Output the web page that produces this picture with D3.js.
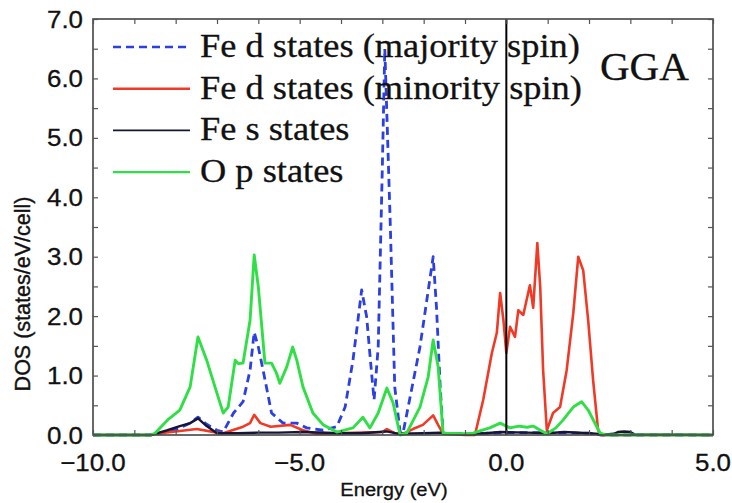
<!DOCTYPE html>
<html>
<head>
<meta charset="utf-8">
<script src="https://cdn.jsdelivr.net/npm/d3@7"></script>
<style>
  body { margin: 0; background: #fff; }
</style>
</head>
<body>
<script>
// data (energy in eV, DOS in states/eV/cell)
var majE = [-10, -8.6, -8.5, -8.2, -7.9, -7.65, -7.46, -7.25, -7.0, -6.85, -6.6, -6.37, -6.2, -6.1, -6.0, -5.87, -5.68, -5.4, -5.07, -4.83, -4.43, -4.1, -3.9, -3.71, -3.5, -3.38, -3.26, -3.2, -3.1, -3.0, -2.94, -2.81, -2.7, -2.57, -2.5, -2.09, -1.77, -1.69, -1.6, -1.53, -1.0, 0, 1, 2, 2.3, 5]
var majDos = [0, 0, 0.02, 0.05, 0.12, 0.2, 0.3, 0.18, 0.08, 0.05, 0.37, 0.56, 1.09, 1.73, 1.48, 1.04, 0.37, 0.2, 0.2, 0.12, 0.08, 0.14, 0.47, 1.26, 2.44, 1.99, 1.04, 0.59, 1.48, 4.5, 6.5, 3.6, 0.81, 0.05, 0.03, 1.48, 3.0, 2.15, 0.81, 0.03, 0.02, 0.04, 0.04, 0.03, 0, 0]

var minE = [-10, -8.6, -8.5, -8.0, -7.49, -7.0, -6.85, -6.37, -6.2, -6.1, -5.95, -5.7, -5.23, -4.92, -4.6, -3.5, -3.0, -2.89, -2.7, -2.5, -2.26, -2.02, -1.77, -1.65, -1.53, -1.0, -0.76, -0.56, -0.35, -0.23, -0.15, -0.07, 0.0, 0.09, 0.21, 0.29, 0.41, 0.57, 0.65, 0.75, 0.82, 0.89, 0.98, 1.13, 1.3, 1.46, 1.62, 1.74, 1.86, 1.98, 2.1, 2.22, 2.3, 5]
var minDos = [0, 0, 0.02, 0.06, 0.1, 0.04, 0.03, 0.14, 0.2, 0.34, 0.2, 0.14, 0.17, 0.08, 0.02, 0.04, 0.05, 0.1, 0.03, 0.02, 0.1, 0.17, 0.33, 0.17, 0.02, 0.0, 0.0, 0.59, 1.38, 1.72, 2.39, 1.93, 1.38, 1.82, 1.65, 2.1, 2.02, 2.52, 2.14, 3.23, 2.49, 1.09, 0.08, 0.37, 0.47, 1.09, 2.05, 3.0, 2.77, 1.93, 0.92, 0.08, 0, 0]

var sE = [-10, -8.6, -8.5, -8.2, -7.9, -7.65, -7.46, -7.25, -7.0, -6.5, -6.0, -5.5, -4.92, -4.0, -3.5, -2.9, -2.6, -2.0, -1.6, -1.0, -0.5, -0.15, 0.5, 1.0, 1.4, 2.0, 2.4, 2.6, 2.7, 2.85, 3.0, 3.1, 5]
var sDos = [0, 0, 0.02, 0.08, 0.15, 0.2, 0.28, 0.15, 0.03, 0.03, 0.04, 0.04, 0.05, 0.03, 0.03, 0.06, 0.02, 0.03, 0.04, 0.01, 0.03, 0.05, 0.04, 0.03, 0.05, 0.03, 0.01, 0.02, 0.05, 0.06, 0.05, 0.01, 0]

var opE = [-10, -8.6, -8.5, -8.2, -7.9, -7.65, -7.46, -7.25, -7.0, -6.85, -6.73, -6.56, -6.48, -6.37, -6.2, -6.1, -6.0, -5.84, -5.68, -5.56, -5.48, -5.31, -5.17, -5.07, -4.92, -4.68, -4.43, -4.1, -3.71, -3.47, -3.3, -3.1, -2.89, -2.74, -2.57, -2.41, -2.09, -1.89, -1.77, -1.65, -1.53, -1.0, -0.8, -0.64, -0.4, -0.15, 0.09, 0.3, 0.5, 0.65, 0.82, 0.98, 1.2, 1.37, 1.62, 1.82, 1.98, 2.27, 2.4, 5]
var opDos = [0, 0, 0.03, 0.25, 0.42, 0.81, 1.65, 1.26, 0.7, 0.37, 0.47, 1.26, 1.2, 1.21, 1.93, 3.03, 2.49, 1.21, 1.21, 1.04, 0.87, 1.15, 1.48, 1.26, 0.81, 0.37, 0.17, 0.05, 0.12, 0.3, 0.12, 0.37, 0.79, 0.54, 0.0, 0.03, 0.47, 0.98, 1.6, 1.15, 0.03, 0.02, 0.03, 0.07, 0.12, 0.2, 0.12, 0.15, 0.13, 0.15, 0.08, 0.02, 0.12, 0.25, 0.47, 0.56, 0.42, 0.03, 0, 0]

var xTicks = [-10, -5, 0, 5]
var yTicks = [0, 1, 2, 3, 4, 5, 6, 7]
var legendLabels = ["Fe d states (majority spin)", "Fe d states (minority spin)", "Fe s states", "O p states"]

svg_w = 732
svg_h = 503
var sans = "Liberation Sans, Arial, sans-serif"
var serif = "Liberation Serif, Times New Roman, serif"

var svg = d3.select("body").append("svg")
    .attr("width", svg_w).attr("height", svg_h)

var x = d3.scaleLinear().domain([-10, 5]).range([93, 713])
var y = d3.scaleLinear().domain([0, 7]).range([435, 19])

// put a text that is widened like the picture
function wtext(tx, ty, str, size, family, anchor, scale) {
    return svg.append("text")
        .attr("transform", "translate(" + tx + "," + ty + ") scale(" + scale + ",1)")
        .attr("text-anchor", anchor)
        .attr("font-family", family)
        .attr("font-size", size)
        .attr("fill", "#111")
        .attr("stroke", "#111")
        .attr("stroke-width", 0.3)
        .text(str)
}

var series = [
    {e: majE, v: majDos, color: "#2b3fe3", width: 2.8, dash: "8,5"},
    {e: minE, v: minDos, color: "#f03a26", width: 2.6, dash: null},
    {e: sE, v: sDos, color: "#151535", width: 2.4, dash: null},
    {e: opE, v: opDos, color: "#2fdf45", width: 2.9, dash: null}
]

var line = d3.line()
    .x(d => x(d[0]))
    .y(d => y(d[1]))

series.forEach(s => {
    svg.append("path")
        .datum(s.e.map((e, i) => [e, s.v[i]]))
        .attr("d", line)
        .attr("fill", "none")
        .attr("stroke", s.color)
        .attr("stroke-width", s.width)
        .attr("stroke-linejoin", "round")
        .attr("stroke-dasharray", s.dash)
})

// Fermi level
svg.append("line")
    .attr("x1", x(0)).attr("x2", x(0))
    .attr("y1", y(0)).attr("y2", y(7))
    .attr("stroke", "#000").attr("stroke-width", 2)

// frame and inward ticks on all four sides
svg.append("rect")
    .attr("x", x(-10)).attr("y", y(7))
    .attr("width", x(5) - x(-10)).attr("height", y(0) - y(7))
    .attr("fill", "none").attr("stroke", "#444").attr("stroke-width", 1.6)

var xAxB = d3.axisBottom(x).tickValues(d3.range(-10, 5.01, 1)).tickSize(-5).tickFormat("")
var xAxT = d3.axisTop(x).tickValues(d3.range(-10, 5.01, 1)).tickSize(-5).tickFormat("")
var yAxL = d3.axisLeft(y).tickValues(d3.range(0, 7.01, 0.5)).tickSize(-5).tickFormat("")
var yAxR = d3.axisRight(y).tickValues(d3.range(0, 7.01, 0.5)).tickSize(-5).tickFormat("")
;[[xAxB, "translate(0," + y(0) + ")"], [xAxT, "translate(0," + y(7) + ")"],
  [yAxL, "translate(" + x(-10) + ",0)"], [yAxR, "translate(" + x(5) + ",0)"]].forEach(a => {
    var g = svg.append("g").attr("transform", a[1]).call(a[0])
    g.select(".domain").remove()
    g.selectAll("line").attr("stroke", "#555").attr("stroke-width", 1.2)
})

// tick labels
xTicks.forEach(t => wtext(x(t), 471, d3.format(".1f")(t), 24, sans, "middle", 1.08))
yTicks.forEach(t => wtext(83, y(t) + 8.5, d3.format(".1f")(t), 24, sans, "end", 1.08))

// axis titles
wtext(394, 496, "Energy (eV)", 19, sans, "middle", 1.06)
svg.append("text")
    .attr("transform", "translate(30,294) rotate(-90)")
    .attr("text-anchor", "middle")
    .attr("font-family", sans)
    .attr("font-size", 21.5)
    .attr("fill", "#111")
    .attr("stroke", "#111")
    .attr("stroke-width", 0.4)
    .text("DOS (states/eV/cell)")

// legend
legendLabels.forEach((lab, i) => {
    var base = 57 + i * 41.7
    svg.append("line")
        .attr("x1", 113).attr("x2", 190)
        .attr("y1", base - 10).attr("y2", base - 10)
        .attr("stroke", series[i].color)
        .attr("stroke-width", i == 2 ? 1.6 : 2.4)
        .attr("stroke-dasharray", series[i].dash)
    wtext(200, base, lab, 34, serif, "start", 1.07)
})

wtext(600, 80, "GGA", 41, serif, "start", 1.0)
</script>
</body>
</html>
